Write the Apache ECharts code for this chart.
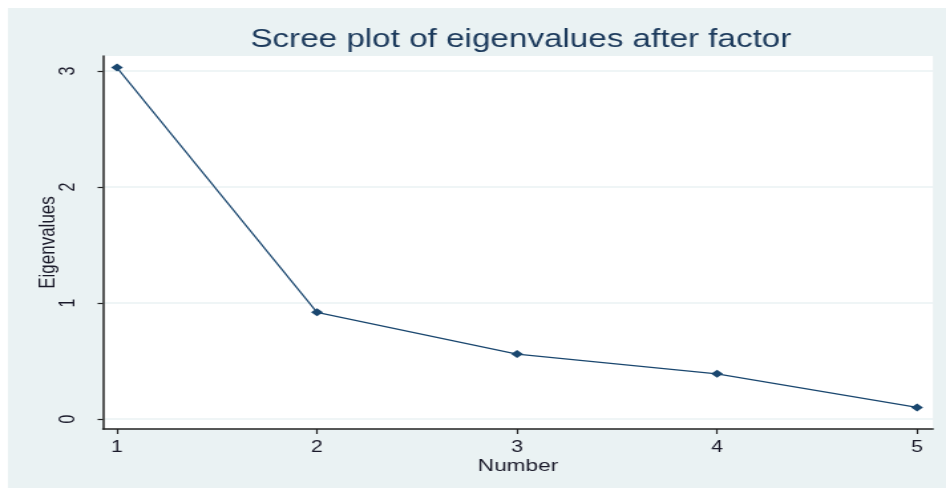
<!DOCTYPE html>
<html><head><meta charset="utf-8">
<script src="https://cdn.jsdelivr.net/npm/echarts@6/dist/echarts.min.js"></script>
<style>html,body{margin:0;padding:0;background:#fff;overflow:hidden}
#c{width:712px;height:488px;transform:scaleX(1.3287);transform-origin:0 0}</style>
</head><body><div id="c"></div>
<script>
const numbers = [1, 2, 3, 4, 5];
const eigenvalues = [3.03, 0.92, 0.56, 0.39, 0.10];
const xTicks = [1, 2, 3, 4, 5];
const yTicks = [0, 1, 2, 3];

const chart = echarts.init(document.getElementById('c'));
const font = 'Liberation Sans, Arial, sans-serif';
chart.setOption({
  backgroundColor: '#ffffff',
  animation: false,
  graphic: [{type:'rect', z:-10, shape:{x:6,y:8,width:720,height:480}, style:{fill:'#EAF2F3'}}],
  title: {text:'Scree plot of eigenvalues after factor', left:387, textAlign:'center', top:23,
    textStyle:{fontFamily:font, fontSize:25, fontWeight:'normal', color:'#1C3A5C'}},
  grid: {left:77.5, top:56, right:9.8, bottom:59, show:true, backgroundColor:'#fff', borderWidth:0},
  xAxis: {type:'value', min:0.93, max:5.08, interval:1,
    name:'Number', nameLocation:'middle', nameGap:29, nameMoveOverlap:false,
    nameTextStyle:{fontFamily:font, fontSize:17, color:'#1a1a2a'},
    axisLine:{onZero:false, lineStyle:{color:'#222', width:1.5}},
    axisTick:{length:5, lineStyle:{color:'#222', width:1.2}, customValues: xTicks},
    axisLabel:{fontFamily:font, fontSize:16, color:'#1a1a2a', margin:11, customValues: xTicks},
    splitLine:{show:false}},
  yAxis: {type:'value', min:-0.086, max:3.13,
    name:'Eigenvalues', nameLocation:'middle', nameGap:32.5, nameRotate:90, nameMoveOverlap:false,
    nameTextStyle:{fontFamily:font, fontSize:17, color:'#1a1a2a'},
    axisLine:{show:true, onZero:false, lineStyle:{color:'#222', width:1.5}},
    axisTick:{show:true, length:4, lineStyle:{color:'#222', width:1.2}, customValues: yTicks},
    axisLabel:{fontFamily:font, fontSize:16, color:'#1a1a2a', rotate:90, margin:18, customValues: yTicks},
    splitLine:{show:true, lineStyle:{color:'#EAF2F3', width:1.5}, customValues: yTicks}},
  series: [{type:'line', data: numbers.map((n,i)=>[n, eigenvalues[i]]),
    symbol:'diamond', symbolSize:[9,8], lineStyle:{color:'#1A476F', width:1.2},
    itemStyle:{color:'#1A476F'}}]
});
</script></body></html>
